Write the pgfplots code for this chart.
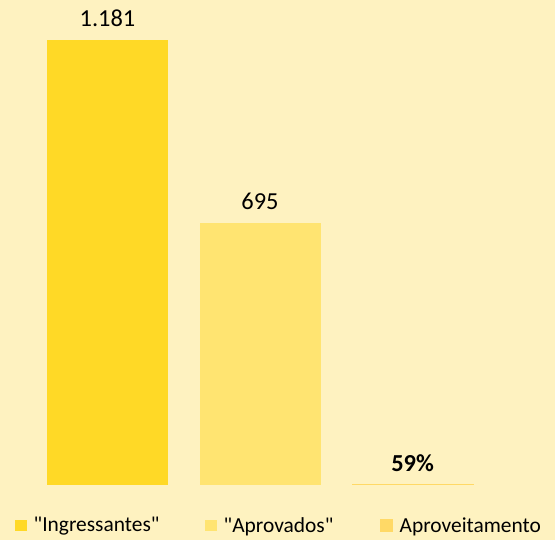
\documentclass[border=0pt]{standalone}
\usepackage{pgfplots}
\pgfplotsset{compat=1.18}
\usepackage{fontspec}
\setmainfont{Carlito}[Ligatures=TeXOff]
\definecolor{bg}{HTML}{FEF2C0}
\definecolor{ingr}{HTML}{FFD926}
\definecolor{aprov}{HTML}{FFE471}
\definecolor{aprv}{HTML}{FFD966}
\begin{document}
\begin{tikzpicture}
\fill[bg] (0,0) rectangle (555bp,540bp);
\begin{axis}[
  at={(0bp,55bp)}, anchor=south west,
  scale only axis, width=555bp, height=445bp,
  xmin=-0.705, xmax=2.934, ymin=0, ymax=1181,
  hide axis,
  ybar, bar width=121bp, bar shift=0pt,
  nodes near coords,
  every node near coord/.append style={anchor=center, font=\fontsize{24.5}{29}\selectfont, text=black},
  legend columns=3,
  legend image code/.code={\fill[#1] (0bp,-5.75bp) rectangle (11.5bp,5.75bp);},
  legend style={draw=none, fill=none, inner sep=0pt, anchor=west,
    at={(axis description cs:0.027,-0.091)},
    font=\fontsize{21.5}{26}\selectfont,
    nodes={inner sep=0pt, anchor=west},
    /tikz/every odd column/.append style={column sep=7bp}},
]
\addplot[fill=ingr, draw=none, nodes near coords={1.181},
  every node near coord/.append style={yshift=21.5bp}]
  coordinates {(0,1181)};
\addlegendentry[text width=171.5bp]{"Ingressantes"}
\addplot[fill=aprov, draw=none, nodes near coords={695},
  every node near coord/.append style={yshift=22bp}]
  coordinates {(1,695)};
\addlegendentry[text width=156.5bp]{"Aprovados"}
\addplot[fill=aprv, draw=aprv, line width=1bp, nodes near coords={\textbf{59\%}},
  every node near coord/.append style={yshift=21.5bp}]
  coordinates {(2,0.59)};
\addlegendentry{Aproveitamento}
\end{axis}
\pgfresetboundingbox
\path (0,0) rectangle (555bp,540bp);
\end{tikzpicture}
\end{document}
